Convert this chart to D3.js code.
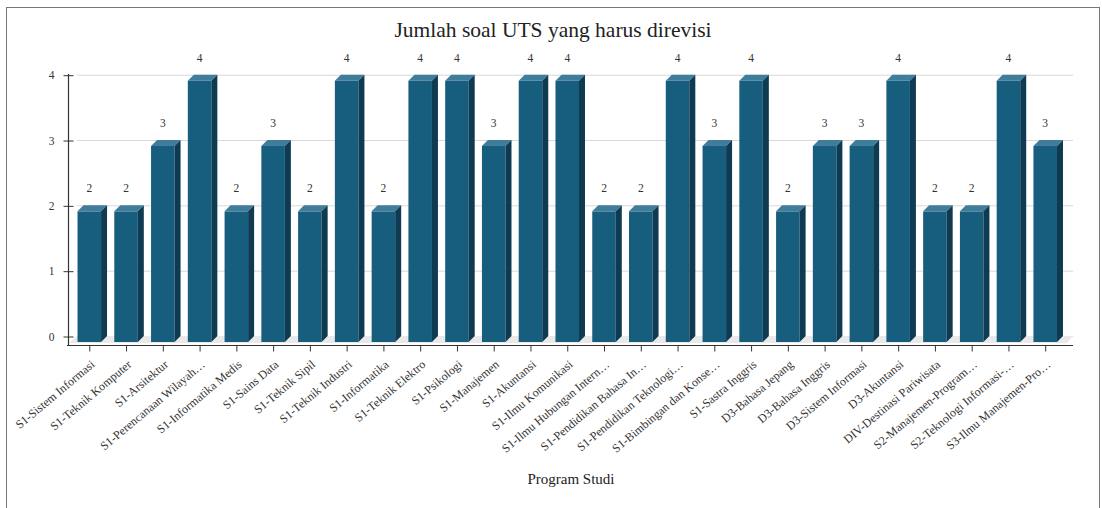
<!DOCTYPE html>
<html><head><meta charset="utf-8">
<script src="https://cdn.jsdelivr.net/npm/d3@7/dist/d3.min.js"></script>
<style>
html,body{margin:0;padding:0;background:#fff;}
svg{display:block;font-family:"Liberation Serif","Times New Roman",serif;}
</style></head>
<body>
<svg id="c" width="1102" height="508"></svg>
<script>
const categories = [
  "S1-Sistem Informasi","S1-Teknik Komputer","S1-Arsitektur","S1-Perencanaan Wilayah…",
  "S1-Informatika Medis","S1-Sains Data","S1-Teknik Sipil","S1-Teknik Industri",
  "S1-Informatika","S1-Teknik Elektro","S1-Psikologi","S1-Manajemen","S1-Akuntansi",
  "S1-Ilmu Komunikasi","S1-Ilmu Hubungan Intern…","S1-Pendidikan Bahasa In…",
  "S1-Pendidikan Teknologi…","S1-Bimbingan dan Konse…","S1-Sastra Inggris",
  "D3-Bahasa Jepang","D3-Bahasa Inggris","D3-Sistem Informasi","D3-Akuntansi",
  "DIV-Destinasi Pariwisata","S2-Manajemen-Program…","S2-Teknologi Informasi-…",
  "S3-Ilmu Manajemen-Pro…"
];
const values = [2,2,3,4,2,3,2,4,2,4,4,3,4,4,2,2,4,3,4,2,3,3,4,2,2,4,3];
const yTicks = [0,1,2,3,4];
const titleText = "Jumlah soal UTS yang harus direvisi";
const xTitle = "Program Studi";

const svg = d3.select("#c");
const D = 6; // 3D depth

// frame
svg.append("rect").attr("x",6.5).attr("y",7.5).attr("width",1093).attr("height",520)
  .attr("fill","none").attr("stroke","#777").attr("stroke-width",1);

const x = d3.scaleBand().domain(categories).range([70.9,1063.6]).paddingInner(0.36).paddingOuter(0.18);
const y = d3.scaleLinear().domain([0,4]).range([336,74.7]);

// title
svg.append("text").attr("x",553).attr("y",37).attr("text-anchor","middle")
  .attr("font-size",21.5).attr("fill","#222").text(titleText);

// gridlines (back plane)
svg.append("g").selectAll("line").data(yTicks).join("line")
  .attr("x1",77).attr("x2",1073).attr("y1",d=>y(d)+0.5).attr("y2",d=>y(d)+0.5)
  .attr("stroke","#d8d8d8").attr("stroke-width",1);

// floor
const y0 = y(0);
svg.append("polygon")
  .attr("points",[[77,y0],[1073,y0],[1073-D,y0+D+1],[77-D-2,y0+D+1]].map(p=>p.join(",")).join(" "))
  .attr("fill","#e9e9e9");

// bars
const g = svg.append("g");
values.forEach((v,i)=>{
  const c = categories[i];
  const bx = x(c), bw = x.bandwidth();
  const yf = y(v)+D, yb = y(0)+D;
  g.append("rect").attr("x",bx).attr("y",yf).attr("width",bw).attr("height",yb-yf).attr("fill","#175d7e");
  g.append("polygon").attr("points",[[bx,yf],[bx+D,yf-D],[bx+bw+D,yf-D],[bx+bw,yf]].map(p=>p.join(",")).join(" "))
    .attr("fill","#3f7d9b");
  g.append("polygon").attr("points",[[bx+bw,yf],[bx+bw+D,yf-D],[bx+bw+D,yb-D],[bx+bw,yb]].map(p=>p.join(",")).join(" "))
    .attr("fill","#0e3b51");
  g.append("text").attr("x",bx+bw/2).attr("y",y(v)-13).attr("text-anchor","middle")
    .attr("font-size",11.5).attr("fill","#333").text(v);
});

// x axis line
svg.append("line").attr("x1",67).attr("x2",1073).attr("y1",345.5).attr("y2",345.5)
  .attr("stroke","#333").attr("stroke-width",1.2);
// y axis line
svg.append("line").attr("x1",68.5).attr("x2",68.5).attr("y1",74).attr("y2",346)
  .attr("stroke","#333").attr("stroke-width",1.2);

// y axis ticks
const ya = svg.append("g").attr("transform","translate(68.5,0.5)")
  .call(d3.axisLeft(y).tickValues(yTicks).tickSize(5).tickFormat(d3.format("d")));
ya.select(".domain").remove();
ya.selectAll(".tick line").attr("x1",5).attr("x2",-5).attr("stroke","#333");
ya.selectAll(".tick text").attr("x",-14).attr("font-family","Liberation Serif, serif")
  .attr("font-size",11.5).attr("fill","#333");

// x axis ticks
const xc = d3.scalePoint().domain(categories).range([x(categories[0])+x.bandwidth()/2, x(categories[categories.length-1])+x.bandwidth()/2]);
const xa = svg.append("g").attr("transform","translate(0,345.5)")
  .call(d3.axisBottom(xc).tickSize(6).tickSizeOuter(0));
xa.select(".domain").remove();
xa.selectAll(".tick line").attr("stroke","#333");
xa.selectAll(".tick text").attr("font-family","Liberation Serif, serif").attr("font-size",12)
  .attr("fill","#333").attr("text-anchor","end")
  .attr("transform","translate(3,17) rotate(-40)").attr("dy","0.35em").attr("y",0).attr("x",0);

// x axis title
svg.append("text").attr("x",571).attr("y",484).attr("text-anchor","middle")
  .attr("font-size",15).attr("fill","#222").text(xTitle);
</script>
</body></html>
